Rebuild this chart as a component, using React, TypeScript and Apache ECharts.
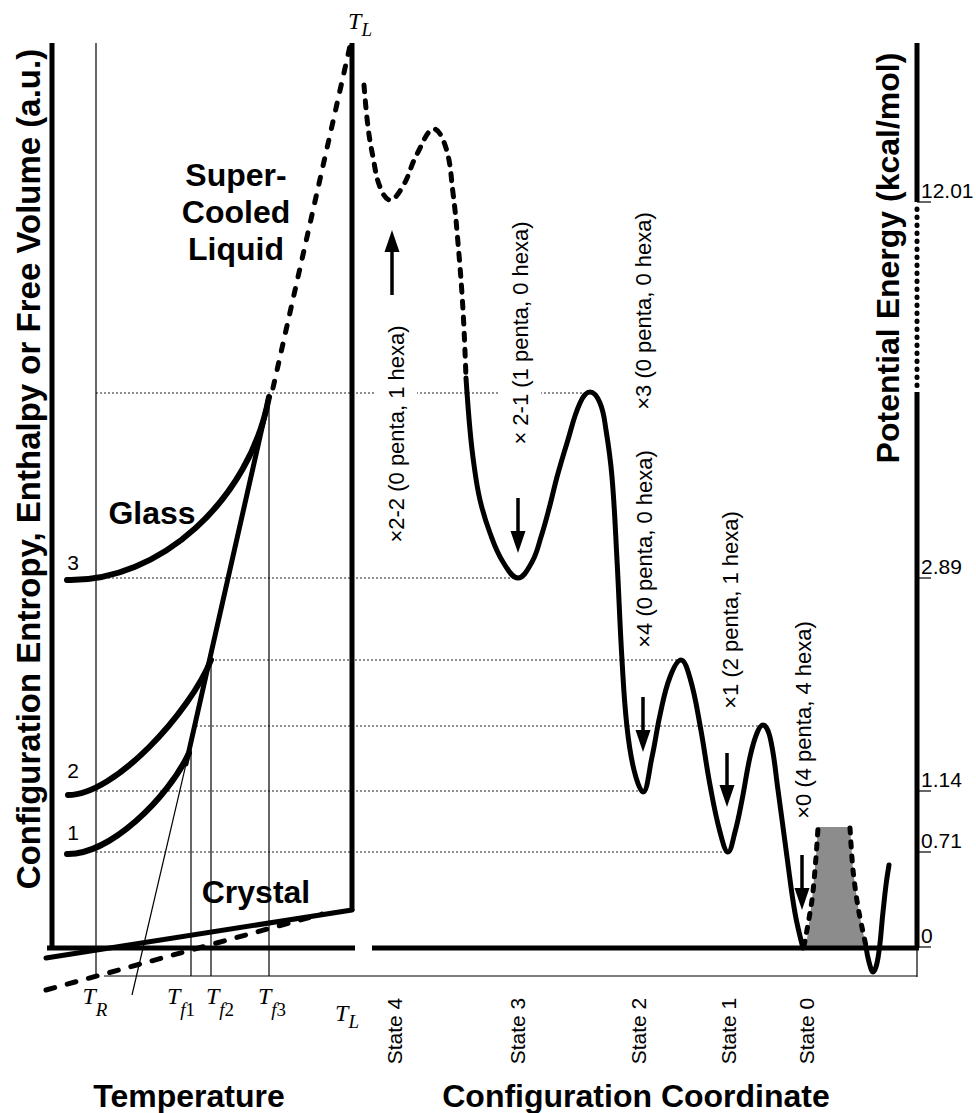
import React, { useEffect, useRef } from "react";
import * as echarts from "echarts";

type Pt = [number, number];

// Diagram coordinates: x to the right, y downwards, one unit per pixel of the figure.

// ---------- Left panel: temperature diagram ----------
const entropyAxis: Pt[] = [[52, 43], [52, 950]];
const liquidusLine: Pt[] = [[352, 43], [352, 911]];
const zeroLevelLeft: Pt[] = [[47, 948], [355, 948]];
const zeroLevelRight: Pt[] = [[372, 948], [919, 948]];
const baseLine: Pt[] = [[104, 976], [917, 976]];

const tempX = [96, 191, 211, 269];
const tempTop = [43, 748, 660, 397];
const tempBottom = 976;

const crystalSolid: Pt[] = [[46, 958], [352, 910]];
const crystalDashed: Pt[] = [[46, 990], [322, 914]];
const liquidSolid: Pt[] = [[269, 397], [186, 764]];
const liquidExtrapolated: Pt[] = [[187, 760], [132, 995]];
const superCooled: Pt[] = [[273, 388], [350, 46]];

// glass curves: start, control 1, control 2, end (cubic Bézier)
const glass1: Pt[] = [[67, 854], [110, 855], [168, 798], [189, 753]];
const glass2: Pt[] = [[68, 795], [115, 795], [190, 712], [211, 660]];
const glass3: Pt[] = [[67, 580], [160, 582], [250, 500], [269, 397]];

// ---------- Right panel: potential energy landscape ----------
const landscapeHigh: Pt[] = [
  [364, 85], [368, 127], [373, 157], [380, 187], [390, 200], [403, 186], [417, 154], [434, 129],
  [446, 148], [453, 193], [458, 243], [463, 310], [466, 378],
];
const landscapeLow: Pt[] = [
  [466, 378], [470, 430], [474, 465], [480, 500], [490, 533], [503, 562], [518, 578],
  [532, 562], [541, 537], [550, 505], [557, 477], [567, 443], [580, 403], [590, 392],
  [600, 403], [606, 430], [612, 477], [617, 560], [622, 660], [627, 727], [634, 770], [643, 792],
  [652, 757], [660, 715], [670, 677], [681, 660],
  [690, 678], [700, 725], [710, 785], [720, 832], [728, 852],
  [735, 832], [742, 800], [750, 757], [757, 733], [763, 725],
  [770, 737], [778, 790], [787, 857], [795, 913], [803, 948],
];
const groundWell: Pt[] = [[866, 947], [869, 962], [873, 972], [878, 958], [883, 912], [886, 885], [889, 865]];
const barrierFill: Pt[] = [[806, 947], [812, 900], [816, 857], [818, 827], [850, 827], [853, 870], [858, 907], [866, 947]];
const barrierLeft: Pt[] = [[804, 946], [812, 900], [816, 857], [818, 828]];
const barrierRight: Pt[] = [[850, 828], [853, 870], [858, 907], [866, 946]];

const energyLabels = ["0", "0.71", "1.14", "2.89", "12.01"];
const energyLevelY = [947, 852, 791, 578, 202];

const guideLines: Pt[][] = [
  [[96, 393], [590, 393]],
  [[96, 578], [518, 578]],
  [[211, 660], [681, 660]],
  [[196, 726], [763, 726]],
  [[96, 791], [643, 791]],
  [[96, 852], [728, 852]],
];

const energyAxisSolid: Pt[][] = [[[917, 43], [917, 202]], [[917, 392], [917, 948]]];
const energyAxisBreak: Pt[] = [[917, 209], [917, 386]];
const energyAxisThin: Pt[] = [[917, 948], [917, 977]];

const arrowX = [392, 518, 643, 727, 802];
const arrowTail = [295, 498, 697, 753, 855];
const arrowTip = [230, 553, 752, 807, 910];

const stateNames = ["State 4", "State 3", "State 2", "State 1", "State 0"];
const stateX = [394, 517, 638, 728, 806];

const annotations = [
  "×2-2 (0 penta, 1 hexa)",
  "× 2-1 (1 penta, 0 hexa)",
  "×3 (0 penta, 0 hexa)",
  "×4 (0 penta, 0 hexa)",
  "×1 (2 penta, 1 hexa)",
  "×0 (4 penta, 4 hexa)",
];
const annotationX = [396, 520, 643, 644, 730, 803];
const annotationY = [434, 333, 311, 549, 610, 720];
const annotationMask = [true, true, false, false, false, false];

// temperature labels: subscript italic part, subscript upright part, centre x, top y, subscript drop
const tLabelItalic = ["R", "f", "f", "f", "L", "L"];
const tLabelUpright = ["", "1", "2", "3", "", ""];
const tLabelX = [95, 181, 220, 272, 347, 360];
const tLabelTop = [984, 984, 984, 984, 1001, 9];
const tLabelDrop = [16, 16, 16, 16, 11, 11];

// ---------- styling helpers ----------
const SANS = "Liberation Sans, Arial, sans-serif";
const SERIF = "Liberation Serif, Times New Roman, serif";

function segs(data: Pt[][], width: number, type: any = "solid", cap: any = "butt", color = "#000", z = 3) {
  return {
    type: "lines",
    coordinateSystem: "cartesian2d",
    polyline: true,
    silent: true,
    z,
    symbol: ["none", "none"],
    data: data.map((c) => ({ coords: c })),
    lineStyle: { color, width, type, cap, opacity: 1, curveness: 0 },
  };
}

function curve(pts: Pt[], width: number, type: any = "solid", smooth = 0.4, z = 4) {
  return {
    type: "line",
    data: pts,
    smooth,
    showSymbol: false,
    symbol: "none",
    clip: false,
    silent: true,
    z,
    lineStyle: { color: "#000", width, type, cap: "round", join: "round" },
  };
}

function bezierSeries(curves: Pt[][], width: number) {
  return {
    type: "custom",
    coordinateSystem: "cartesian2d",
    silent: true,
    clip: false,
    z: 4,
    data: curves.map((c, i) => [c[0][0], c[0][1], i]),
    renderItem: (params: any, api: any) => {
      const c = curves[params.dataIndex];
      const [p0, p1, p2, p3] = c.map((p) => api.coord(p));
      return {
        type: "bezierCurve",
        shape: { x1: p0[0], y1: p0[1], cpx1: p1[0], cpy1: p1[1], cpx2: p2[0], cpy2: p2[1], x2: p3[0], y2: p3[1] },
        style: { stroke: "#000", lineWidth: width, fill: null, lineCap: "round" },
      };
    },
  };
}

function txt(text: string, x: number, y: number, opts: any = {}) {
  return {
    type: "text",
    x,
    y,
    z: 10,
    rotation: opts.rotation || 0,
    silent: true,
    style: {
      text,
      fontSize: opts.size || 22,
      fontFamily: opts.family || SANS,
      fontWeight: opts.weight || "normal",
      fontStyle: opts.style || "normal",
      fill: "#000",
      align: opts.align || "center",
      verticalAlign: opts.valign || "middle",
      lineHeight: opts.lineHeight,
      backgroundColor: opts.bg,
      padding: opts.padding,
    },
  };
}

function tempLabel(i: number) {
  const drop = tLabelDrop[i];
  const parts = `{t|T}{i|${tLabelItalic[i]}}` + (tLabelUpright[i] ? `{n|${tLabelUpright[i]}}` : "");
  return {
    type: "text",
    x: tLabelX[i],
    y: tLabelTop[i],
    z: 10,
    silent: true,
    style: {
      text: parts,
      align: "center",
      verticalAlign: "top",
      rich: {
        t: { fontSize: 24, fontFamily: SERIF, fontStyle: "italic", fill: "#000", verticalAlign: "top" },
        i: { fontSize: 19, fontFamily: SERIF, fontStyle: "italic", fill: "#000", padding: [drop, 0, 0, 0], verticalAlign: "top" },
        n: { fontSize: 19, fontFamily: SERIF, fill: "#000", padding: [drop, 0, 0, 0], verticalAlign: "top" },
      },
    },
  };
}

function buildOption() {
  const tempLines: Pt[][] = tempX.map((x, i) => [[x, tempTop[i]], [x, tempBottom]]);
  const energyTicks: Pt[][] = energyLevelY.map((y) => [[917, y], [931, y]]);
  const shafts: Pt[][] = arrowX.map((x, i) => {
    const up = arrowTip[i] < arrowTail[i];
    return [[x, arrowTail[i]], [x, arrowTip[i] + (up ? 12 : -12)]];
  });
  const heads = arrowX.map((x, i) => {
    const up = arrowTip[i] < arrowTail[i];
    return { value: [x, arrowTip[i] + (up ? 11 : -11)], symbolRotate: up ? 0 : 180 };
  });

  const graphics: any[] = [];
  graphics.push(txt("Configuration Entropy, Enthalpy or Free Volume (a.u.)", 28, 469, { size: 33, weight: "bold", rotation: Math.PI / 2 }));
  graphics.push(txt("Potential Energy (kcal/mol)", 888, 258, { size: 32, weight: "bold", rotation: Math.PI / 2 }));
  graphics.push(txt("Temperature", 189, 1096, { size: 32, weight: "bold" }));
  graphics.push(txt("Configuration Coordinate", 636, 1096, { size: 32, weight: "bold" }));
  graphics.push(txt("Super-\nCooled\nLiquid", 236, 212, { size: 32, weight: "bold", lineHeight: 37 }));
  graphics.push(txt("Glass", 152, 513, { size: 32, weight: "bold" }));
  graphics.push(txt("Crystal", 256, 892, { size: 32, weight: "bold" }));
  graphics.push(txt("3", 73, 562, { size: 21 }));
  graphics.push(txt("2", 73, 770, { size: 21 }));
  graphics.push(txt("1", 73, 832, { size: 21 }));
  tLabelX.forEach((_x, i) => graphics.push(tempLabel(i)));
  energyLabels.forEach((l, i) => graphics.push(txt(l, 921, energyLevelY[i] - 12, { size: 21, align: "left" })));
  stateNames.forEach((s, i) => graphics.push(txt(s, stateX[i], 1031, { size: 21, rotation: Math.PI / 2 })));
  annotations.forEach((a, i) =>
    graphics.push(
      txt(a, annotationX[i], annotationY[i], {
        size: 22,
        rotation: Math.PI / 2,
        bg: annotationMask[i] ? "#fff" : undefined,
        padding: annotationMask[i] ? [10, 0, 10, 0] : undefined,
      })
    )
  );

  return {
    animation: false,
    backgroundColor: "#fff",
    grid: { left: 0, right: 0, top: 0, bottom: 0, containLabel: false },
    xAxis: { type: "value", min: 0, max: 976, show: false },
    yAxis: { type: "value", min: 0, max: 1113, inverse: true, show: false },
    tooltip: { show: false },
    series: [
      segs(guideLines, 1, [2, 2], "butt", "#222", 1),
      segs(tempLines, 1.2, "solid", "butt", "#000", 2),
      segs([baseLine, energyAxisThin, liquidExtrapolated], 1.2, "solid", "butt", "#000", 2),
      segs(energyTicks, 1.2, "solid", "butt", "#000", 2),
      segs([entropyAxis, liquidusLine, zeroLevelLeft, zeroLevelRight, ...energyAxisSolid], 5, "solid", "butt", "#000", 3),
      segs([energyAxisBreak], 5, [0.5, 7.5], "round", "#000", 3),
      segs([crystalSolid, liquidSolid], 5, "solid", "round", "#000", 4),
      segs([crystalDashed], 5, [9, 13], "round", "#000", 4),
      segs([superCooled], 5, [7, 12], "round", "#000", 4),
      bezierSeries([glass1, glass2, glass3], 6),
      {
        type: "custom",
        coordinateSystem: "cartesian2d",
        silent: true,
        z: 2,
        clip: false,
        data: [[836, 887]],
        renderItem: (_p: any, api: any) => ({
          type: "polygon",
          shape: { points: barrierFill.map((p) => api.coord(p)) },
          style: { fill: "#8c8c8c" },
        }),
      },
      curve(barrierLeft, 5, [5, 9], 0.3),
      curve(barrierRight, 5, [5, 9], 0.3),
      curve(landscapeHigh, 5, [7, 9], 0.4),
      curve(landscapeLow, 5, "solid", 0.4),
      curve(groundWell, 5, "solid", 0.4),
      segs(shafts, 3.5, "solid", "butt", "#000", 5),
      {
        type: "scatter",
        silent: true,
        z: 6,
        symbol: "triangle",
        symbolSize: [15, 22],
        itemStyle: { color: "#000", opacity: 1 },
        data: heads,
      },
    ],
    graphic: { elements: graphics },
  };
}

export default function App() {
  const ref = useRef<HTMLDivElement>(null);
  useEffect(() => {
    const chart = echarts.init(ref.current!, null, { renderer: "svg" });
    chart.setOption(buildOption() as any);
    return () => chart.dispose();
  }, []);
  return (
    <div
      ref={ref}
      style={{ position: "absolute", left: 0, top: 0, width: 976, height: 1113, background: "#fff" }}
    />
  );
}
